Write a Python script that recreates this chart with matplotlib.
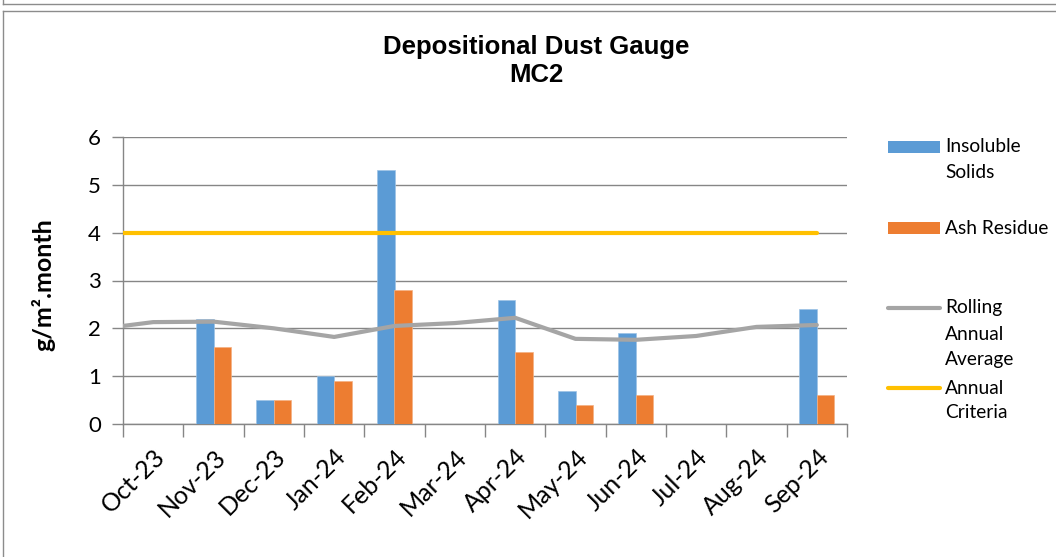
import numpy as np
import matplotlib
matplotlib.use("Agg")
import matplotlib.pyplot as plt
from matplotlib.lines import Line2D
from matplotlib.patches import Rectangle

categories = ["Oct-23", "Nov-23", "Dec-23", "Jan-24", "Feb-24", "Mar-24",
              "Apr-24", "May-24", "Jun-24", "Jul-24", "Aug-24", "Sep-24"]
insoluble = [np.nan, 2.2, 0.5, 1.0, 5.3, np.nan, 2.6, 0.7, 1.9, np.nan, np.nan, 2.4]
ash = [np.nan, 1.6, 0.5, 0.9, 2.8, np.nan, 1.5, 0.4, 0.6, np.nan, np.nan, 0.6]
rolling_prev = 2.05
rolling = [2.13, 2.14, 2.0, 1.82, 2.05, 2.11, 2.22, 1.78, 1.76, 1.84, 2.03, 2.07]
criteria = [4, 4, 4, 4, 4, 4, 4, 4, 4, 4, 4, 4]
yticks = [0, 1, 2, 3, 4, 5, 6]

BLUE = "#5B9BD5"
ORANGE = "#ED7D31"
GREY = "#A5A5A5"
GOLD = "#FFC000"
AXC = "#868686"

W, H = 1056, 557
fig = plt.figure(figsize=(W / 100, H / 100), dpi=100)
fig.patch.set_facecolor("white")

def fx(px):
    return px / W

def fy(py):
    return 1 - py / H

ax = fig.add_axes([fx(123), fy(424), fx(847) - fx(123), fy(137) - fy(424)])
x = np.arange(len(categories))
bw = 0.29
ax.bar(x - bw / 2, insoluble, width=bw, color=BLUE, edgecolor="#9DC3E6", linewidth=0.5, zorder=3)
ax.bar(x + bw / 2, ash, width=bw, color=ORANGE, edgecolor="#F4B183", linewidth=0.5, zorder=3)

xl = np.concatenate([[-0.5], x])
ax.plot(xl, [rolling_prev] + rolling, color=GREY, lw=3, zorder=4, solid_capstyle="round", solid_joinstyle="round")
ax.plot(xl, [criteria[0]] + criteria, color=GOLD, lw=3, zorder=5, solid_capstyle="round")

ax.set_xlim(-0.5, len(categories) - 0.5)
ax.set_ylim(0, 6)
ax.set_yticks(yticks)
ax.set_yticklabels([str(v) for v in yticks], fontsize=16, family="Lato")
ax.set_xticks(np.arange(-0.5, len(categories) + 0.5, 1), minor=False)
ax.set_xticklabels([])
ax.set_xticks(x, minor=True)
ax.set_xticklabels(categories, minor=True, rotation=45, ha="right", va="top",
                   rotation_mode="anchor", fontsize=18, family="Lato")
ax.tick_params(axis="x", which="minor", length=0, pad=15)
ax.tick_params(axis="x", which="major", length=9, width=1, color=AXC, direction="out")
ax.tick_params(axis="y", length=8, width=1, color=AXC, direction="out", pad=8)
ax.grid(axis="y", color=AXC, lw=1, zorder=0)
for s in ["top", "right"]:
    ax.spines[s].set_visible(False)
for s in ["left", "bottom"]:
    ax.spines[s].set_color(AXC)
    ax.spines[s].set_linewidth(1)
ax.set_axisbelow(True)

fig.text(fx(43), fy(285), "g/m².month", rotation=90, ha="center", va="center",
         fontsize=18, fontweight="bold", family="Lato")

fig.text(fx(536), fy(47), "Depositional Dust Gauge", ha="center", va="center",
         fontsize=18.5, fontweight="bold", family="Liberation Sans")
fig.text(fx(536), fy(75), "MC2", ha="center", va="center",
         fontsize=18.5, fontweight="bold", family="Liberation Sans")

# legend (manual)
leg_fs = 13.8
def legtext(py, txt):
    fig.text(fx(945), fy(py), txt, ha="left", va="center", fontsize=leg_fs, family="Lato")

fig.add_artist(Rectangle((fx(888), fy(153)), fx(940) - fx(888), fy(141) - fy(153),
                         transform=fig.transFigure, facecolor=BLUE, edgecolor="none"))
legtext(147, "Insoluble")
legtext(172, "Solids")
fig.add_artist(Rectangle((fx(888), fy(234)), fx(940) - fx(888), fy(222) - fy(234),
                         transform=fig.transFigure, facecolor=ORANGE, edgecolor="none"))
legtext(228, "Ash Residue")
fig.add_artist(Line2D([fx(888), fx(940)], [fy(308), fy(308)], transform=fig.transFigure,
                      color=GREY, lw=3, solid_capstyle="round"))
legtext(308, "Rolling")
legtext(334, "Annual")
legtext(359, "Average")
fig.add_artist(Line2D([fx(888), fx(940)], [fy(388), fy(388)], transform=fig.transFigure,
                      color=GOLD, lw=3, solid_capstyle="round"))
legtext(388, "Annual")
legtext(413, "Criteria")

# frames
fc = "#8C8C8C"
fig.add_artist(Line2D([fx(3), fx(1056)], [fy(4), fy(4)], transform=fig.transFigure, color=fc, lw=1))
fig.add_artist(Line2D([fx(3), fx(3)], [fy(0), fy(4)], transform=fig.transFigure, color=fc, lw=1))
fig.add_artist(Line2D([fx(3), fx(1056)], [fy(11), fy(11)], transform=fig.transFigure, color=fc, lw=1))
fig.add_artist(Line2D([fx(3), fx(3)], [fy(11), fy(557)], transform=fig.transFigure, color=fc, lw=1))

fig.savefig("out.png", dpi=100, facecolor="white")
